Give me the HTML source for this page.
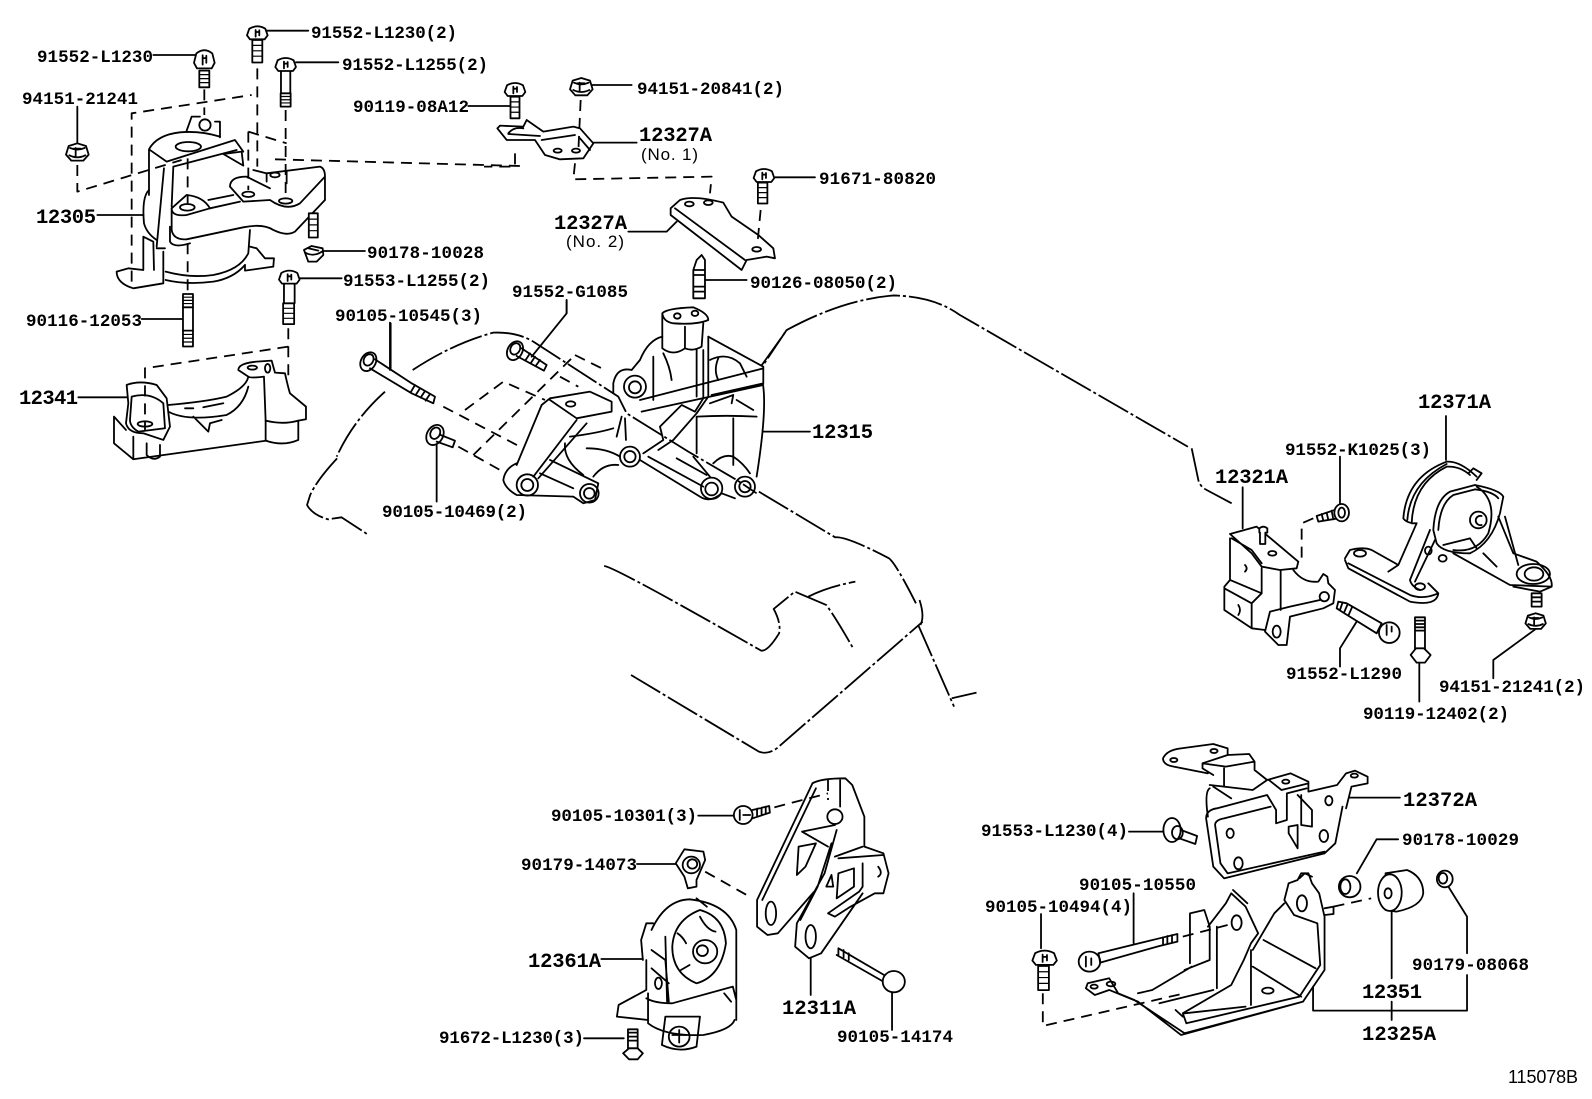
<!DOCTYPE html>
<html>
<head>
<meta charset="utf-8">
<style>
html,body{margin:0;padding:0;background:#fff}
svg{display:block}
path,ellipse,circle,rect,line{vector-effect:non-scaling-stroke}
.d{fill:none;stroke:#000;stroke-width:1.8;stroke-linejoin:round;stroke-linecap:round}
.w{fill:#fff}
.t{stroke-dasharray:11 7;stroke-linecap:butt}
.e{stroke-dasharray:34 3 3 3;stroke-linecap:butt}
.thin{stroke-width:1.2}
text{fill:#000;font-family:"Liberation Mono",monospace;font-weight:bold;font-size:17.5px}
text.b{font-size:20.5px;font-family:"Liberation Mono",monospace;font-weight:bold}
text.s{font-family:"Liberation Sans",sans-serif;font-weight:normal;font-size:17px}
text.n{font-family:"Liberation Sans",sans-serif;font-weight:normal;font-size:18px}
</style>
</head>
<body>
<svg width="1592" height="1099" viewBox="0 0 1592 1099" xmlns="http://www.w3.org/2000/svg">
<defs>
<g id="hd"><path class="w" d="M-31,6 L-24,-14 Q0,-28 24,-14 L31,6 L22,18 L-22,18 Z"/><path d="M-5,-10 V10 M6,-9 V6 M-5,-4 H6"/></g>
<g id="th"><path class="w" d="M-15,0 V50 H15 V0 Z"/><path class="thin" d="M-15,12 H15 M-15,24 H15 M-15,36 H15"/></g>
<g id="nut"><path class="w" d="M-34,6 L-26,-20 L0,-28 L26,-20 L34,6 L18,24 L-18,24 Z"/><path d="M-24,8 Q0,20 24,8 M-5,-14 V10 M-12,-12 H10 M-22,-14 Q0,-4 22,-14"/></g>
</defs>

<g class="d">
<!-- Engine outline -->
<g transform="scale(1.0153)">
<path class="e" d="M750,360 L775,325 Q830,295 880,291 Q920,292 945,310 L1170,440"/>
</g>
<g transform="translate(290,440) scale(0.4487,0.3333)">
<path class="e" d="M1045,155 L1215,292 Q1240,288 1335,355 Q1350,370 1395,490 M1403,480 Q1415,530 1405,555"/>
<path class="e" d="M1400,555 L1480,800 M1475,775 L1530,758"/>
<path class="e" d="M700,378 Q720,378 1050,632 Q1065,635 1090,580 Q1095,550 1078,507 L1125,455 L1195,495 Q1215,530 1255,625 M1155,470 Q1200,440 1260,425"/>
<path class="e" d="M760,705 L1045,935 Q1065,945 1085,925 L1410,545"/>
<path class="e" d="M105,55 Q60,120 45,165 L38,195 Q50,225 85,238 L115,232 L175,285"/>
</g>

<!-- Z1: upper-left group -->
<g transform="scale(0.3333)">
<path d="M800,92 H925 M460,165 H585 M888,187 H1015 M232,320 V430 M1405,318 H1535 M292,645 H430 M970,753 H1095 M900,835 H1025 M425,957 H548 M1170,968 V1110 M235,1192 H380"/>
<g class="t"><path d="M232,495 V575 L545,480 M395,845 V340 L755,285 M772,205 V500 M613,268 V345 M857,330 V590 M745,395 V570 M745,395 L860,430 M825,478 L1560,498 M563,475 V610 M563,730 V880 M865,985 V1130 M865,1040 L435,1105 V1290"/></g>
<!-- 12305 -->
<path d="M447,448 Q470,405 540,397 Q600,392 660,410 M447,448 V585 M447,448 L500,485 L705,420 L730,455 M670,462 L725,455 L730,497 Z"/>
<ellipse cx="565" cy="440" rx="38" ry="14"/>
<path d="M560,392 L575,350 L600,350 M645,365 L660,365 V412"/><circle cx="615" cy="375" r="17"/>
<path d="M520,500 L710,450 M520,500 L515,620 M760,510 L800,520 L960,500 Q975,505 975,530 V600 M975,530 L900,610 Q860,635 810,600 L730,605 L690,560 Q690,530 740,530 L810,565"/>
<path d="M515,625 Q515,650 560,645 L630,625 L720,605 M515,625 V690 Q520,720 560,718 L730,682 Q790,670 820,690 Q860,710 885,695 L975,600"/>
<ellipse cx="562" cy="622" rx="22" ry="10"/><ellipse cx="745" cy="583" rx="18" ry="8"/><ellipse cx="857" cy="603" rx="20" ry="8"/><ellipse cx="825" cy="525" rx="14" ry="7"/>
<path d="M515,625 L560,585 Q610,590 630,625 M492,505 L470,740 M447,570 Q425,590 432,670 Q440,700 470,720"/>
<path d="M510,680 V725 Q520,745 570,730 M750,690 L745,760 Q720,810 640,825 Q570,835 497,815 M497,840 Q560,855 640,845 Q700,835 735,795"/>
<path d="M750,740 L770,745 L795,775 L822,775 L820,800 L735,812 V795 M490,755 V850 L400,865 Q350,850 350,815 L385,805 L430,810 V710 L460,725 L462,810 M470,745 H495"/>
<path d="M800,520 V545 M860,515 V550 M625,600 L700,585"/>
<!-- bolts -->
<use href="#hd" transform="translate(772,100)"/><use href="#th" transform="translate(772,120) scale(1,1.35)"/>
<use href="#hd" transform="translate(613,180) scale(1,1.4)"/><use href="#th" transform="translate(613,212)"/>
<use href="#hd" transform="translate(857,195)"/><path d="M843,215 V280 M871,215 V280"/><use href="#th" transform="translate(857,280) scale(1,.8)"/>
<use href="#nut" transform="translate(232,458)"/>
<use href="#hd" transform="translate(868,833)"/><path d="M852,853 V910 M884,853 V910"/><use href="#th" transform="translate(866,910) scale(1.1,1.25)"/>
<use href="#th" transform="translate(564,882) scale(1,.8)"/><path d="M549,922 V992 M579,922 V992"/><use href="#th" transform="translate(564,992) scale(1,.95)"/>
<use href="#th" transform="translate(940,640) scale(.9,1.45)"/>
<path class="w" d="M912,750 L935,738 L968,745 L970,765 L950,785 L925,785 Z"/><path d="M916,758 Q940,772 966,755 M925,745 L955,752"/>
<!-- 12341 -->
<path d="M380,1155 Q420,1140 470,1155 L500,1195 L510,1280 L490,1320 L430,1300 Q385,1300 378,1270 L385,1210 Z"/>
<path d="M395,1190 Q450,1175 490,1210 L495,1285 L415,1295 Q390,1280 390,1260 Z"/><ellipse cx="435" cy="1272" rx="22" ry="8"/>
<path d="M342,1250 V1330 L400,1378 L800,1322 M342,1250 L378,1290 M400,1310 V1378 M440,1330 V1365 Q460,1385 480,1370 V1335"/>
<path d="M505,1215 Q620,1205 680,1190 Q740,1160 745,1130 L715,1110 Q715,1090 770,1085 L815,1082 L825,1118 L855,1120 Q865,1165 870,1180 L918,1220 V1258 L895,1262 V1320 Q850,1340 797,1322 V1262 L792,1130 Q750,1135 745,1130"/>
<path d="M505,1235 Q560,1265 680,1245 Q730,1220 745,1160 M580,1250 L625,1295 L630,1270 L665,1260 M797,1262 Q850,1275 895,1262 M555,1225 H580 M610,1222 L670,1210"/>
<ellipse cx="757" cy="1103" rx="14" ry="6"/><ellipse cx="803" cy="1105" rx="8" ry="13"/>
</g>

<!-- Z6: top centre -->
<g transform="translate(480,60) scale(0.3333)">
<path d="M335,75 H455 M340,248 H470 M885,352 H1005 M445,515 H560 L590,485 M675,660 H800 M260,720 V760"/>
<g class="t"><path d="M302,120 L295,275 M285,310 L280,358 L695,350 L690,400 M105,280 V320 H12 M842,450 L832,555"/></g>
<path d="M52,205 L80,240 H165 L195,285 L240,298 L310,295 L340,250 L300,205 L280,200 L190,215 L140,180 L130,200 L60,197 Z M85,220 Q100,200 130,205 M85,222 L180,228 M185,240 L285,225 M300,235 L330,270"/>
<ellipse cx="233" cy="272" rx="12" ry="6"/><ellipse cx="288" cy="272" rx="12" ry="6"/>
<use href="#hd" transform="translate(105,90)"/><use href="#th" transform="translate(105,110) scale(.9,1.3)"/>
<use href="#nut" transform="translate(304,82)"/>
<path d="M572,445 L600,420 Q640,405 730,428 L755,470 L835,525 L880,565 L885,595 L860,590 L800,600 L785,630 L572,465 Z M585,445 L795,600"/>
<ellipse cx="628" cy="432" rx="13" ry="7"/><ellipse cx="685" cy="428" rx="13" ry="7"/><ellipse cx="830" cy="568" rx="13" ry="7"/>
<use href="#hd" transform="translate(852,348)"/><use href="#th" transform="translate(848,368) scale(.95,1.25)"/>
<path d="M650,600 L665,585 L675,600 V715 H640 V630 Z M642,630 H675 M642,645 H675 M642,680 H675 M642,695 H675"/>
</g>

<!-- Z2: main bracket -->
<g transform="translate(320,280) scale(0.3333)">
<path d="M740,60 V100 L635,230 M212,130 V265 M350,495 V665 M1330,455 H1470"/>
<g class="t"><path d="M370,380 L600,500 M415,500 L540,570 M435,390 L550,305 L675,360 M460,525 L755,235 M765,225 L855,270 M720,290 L775,320"/></g>
<path class="e" d="M278,270 Q400,190 520,158 Q590,155 640,185 L895,350 L920,400 L1105,515 L1250,600 L1310,640"/>
<path class="e" d="M1400,150 L1330,255 M195,335 Q100,420 50,530"/>
<!-- bracket -->
<path d="M1027,100 Q1040,85 1120,82 Q1165,100 1165,120 Q1130,135 1060,130 Q1030,125 1027,100 Z M1027,100 V205 Q1060,230 1095,205 Q1120,215 1145,200 L1150,130 M1095,140 V205"/>
<ellipse cx="1072" cy="108" rx="10" ry="8"/><ellipse cx="1125" cy="100" rx="10" ry="8"/>
<path d="M1027,170 Q985,180 960,240 L935,270 Q890,260 880,310 V340 M1165,170 L1330,260 V310 L1175,345 M960,360 L1330,265 M965,395 L1330,315 M1330,320 Q1340,400 1310,590"/>
<circle cx="945" cy="320" r="33"/><circle cx="945" cy="322" r="18"/>
<path d="M1030,220 Q1050,260 1055,300 M1000,230 V360 M1130,210 V350 M1150,210 V355 L1125,395 L1085,375 L1020,440 L1030,480 L970,520 M1165,170 V350 L1130,400 L1060,480 L1015,510"/>
<path d="M1170,240 Q1220,215 1260,250 L1280,290 M1195,300 Q1180,270 1195,235 M1130,410 Q1220,405 1310,410 M1130,410 V520 M1240,415 V555 M1180,550 Q1210,520 1240,530 Q1270,550 1290,580 M1250,360 L1300,390 M1170,370 L1240,345 L1235,370"/>
<circle cx="1175" cy="625" r="32"/><circle cx="1175" cy="627" r="19"/>
<circle cx="1275" cy="620" r="30"/><circle cx="1275" cy="620" r="17"/>
<circle cx="930" cy="530" r="30"/><circle cx="930" cy="530" r="17"/>
<circle cx="622" cy="615" r="32"/><circle cx="622" cy="615" r="18"/>
<circle cx="808" cy="640" r="28"/><circle cx="808" cy="640" r="16"/>
<path d="M960,540 L1140,650 Q1170,670 1205,640 L1245,655 M985,530 L1150,620 M1070,535 L1160,585 M1120,530 L1170,590"/>
<path d="M590,555 L665,375 L690,355 L810,335 L875,365 V395 L770,415 L690,360 M550,600 Q555,565 590,550 M550,600 Q555,625 590,645 L760,650 L790,670 L825,660 L835,610 L690,540 M770,420 L640,590 M800,430 L655,595"/>
<path d="M735,490 Q730,540 790,585 M750,470 Q830,460 880,445 M800,505 Q860,505 900,530 M820,590 Q850,550 895,555 M890,470 L905,410 M915,415 L918,480 M660,580 L760,625"/>
<ellipse cx="752" cy="372" rx="14" ry="8"/>
<!-- bolts -->
<g transform="translate(145,245) rotate(-60)"><ellipse class="w" cx="0" cy="0" rx="30" ry="22"/><ellipse cx="5" cy="-2" rx="18" ry="14"/></g>
<path d="M165,238 L275,310 M150,265 L275,340 M275,310 L345,350 L340,370 L275,340 M285,315 L272,337 M300,325 L287,345 M315,333 L302,353 M330,342 L317,362"/>
<g transform="translate(585,212) rotate(-60)"><ellipse class="w" cx="0" cy="0" rx="30" ry="22"/><ellipse cx="5" cy="-2" rx="18" ry="14"/></g>
<path d="M605,205 L680,255 L672,272 L590,228 M630,220 L617,240 M645,230 L632,250 M660,240 L647,258"/>
<g transform="translate(345,465) rotate(-60)"><ellipse class="w" cx="0" cy="0" rx="32" ry="24"/><ellipse cx="5" cy="-2" rx="18" ry="14"/></g>
<path d="M362,465 L405,482 L398,502 L350,485"/>
</g>

<!-- Z3: right group -->
<g transform="translate(1190,390) scale(0.3333)">
<path d="M768,78 V210 M450,200 V345 M158,292 V415 M450,830 V775 L500,695 M910,865 V810 L1040,715 M688,815 V935"/>
<path class="e" d="M5,175 L25,270 Q30,290 50,300 L125,340"/>
<path class="t" d="M370,385 L335,400 V510"/>
<!-- 12321A -->
<path d="M120,432 L200,410 L325,515 L320,535 L270,540 L215,530 L185,490 L120,432 M120,445 V570 L103,590 V660 L185,715 L225,720 M120,570 L215,610 V535 M215,610 L185,640 V715 M103,595 L185,640 M272,540 V660 M125,445 L185,480 L215,520"/>
<path d="M310,540 Q340,580 385,575 L400,552 L412,560 L415,580 L435,600 L430,640 L400,655 L300,680 L290,765 L265,765 L225,725 L240,665 L300,650 L390,630"/>
<circle cx="403" cy="620" r="14"/><ellipse cx="260" cy="725" rx="12" ry="18"/><ellipse cx="247" cy="490" rx="12" ry="7"/><path d="M165,525 Q175,535 165,545 M145,645 Q155,660 145,675"/>
<path class="w" d="M208,415 Q220,405 232,415 V428 H226 V462 H210 V428 H208 Z"/>
<!-- bolts -->
<path d="M380,378 L440,358 L445,385 L385,395 Z M395,372 L400,392 M410,368 L415,390 M425,362 L430,388"/>
<ellipse class="w" cx="455" cy="368" rx="22" ry="26"/><ellipse cx="455" cy="368" rx="10" ry="15"/>
<path d="M445,635 L470,640 L575,700 L560,730 L460,668 L440,655 Z M458,637 L450,660 M472,645 L462,668 M486,652 L476,675"/>
<circle class="w" cx="598" cy="728" r="31"/><path d="M590,705 V735 M605,710 V725"/>
<path d="M675,682 H705 V780 H675 Z M675,692 H705 M675,702 H705 M675,712 H705 M675,722 H705"/>
<path class="w" d="M662,795 L678,775 H702 L722,795 L705,818 H680 Z"/>
<use href="#nut" transform="translate(1037,695) scale(.9)"/>
<path d="M1025,610 H1055 V650 H1025 Z M1025,622 H1055 M1025,635 H1055"/>
<!-- 12371A -->
<path d="M640,385 Q650,260 770,215 Q810,212 860,260 M665,400 Q670,280 770,230 Q810,228 840,255 M652,390 Q660,280 770,222 M640,385 Q650,400 680,400 M835,250 L850,235 L875,250 L860,270"/>
<path d="M730,420 Q735,330 780,305 L855,285 Q930,300 940,320 L930,370 Q905,460 840,490 Q760,490 740,460 Z M745,420 Q750,340 790,315 L855,298 Q910,305 925,325 M860,290 Q925,330 895,430 Q860,490 790,480"/>
<circle cx="865" cy="390" r="25"/><path d="M875,378 A14,14 0 1,0 875,405"/>
<path d="M680,400 L625,525 L595,545 M465,505 L480,480 Q520,470 545,480 L625,525 M465,510 L475,535 L660,635 Q740,650 745,610 L715,580 M475,520 L660,615 Q700,630 745,610 M660,570 L720,420 M675,575 L735,450 M660,570 Q665,590 690,600"/>
<path d="M790,490 L960,585 L1085,590 Q1090,560 1040,515 L970,490 L925,380 M945,380 L985,525 M1085,590 L1050,605 L970,590 M880,490 L920,530 M760,465 L840,445 L860,475"/>
<ellipse cx="1032" cy="552" rx="28" ry="20"/><ellipse cx="1030" cy="552" rx="50" ry="30"/>
<ellipse cx="510" cy="490" rx="18" ry="10"/><ellipse cx="690" cy="590" rx="15" ry="10"/><ellipse cx="758" cy="505" rx="12" ry="10"/><ellipse cx="715" cy="482" rx="10" ry="12"/>
</g>

<!-- Z4: lower right -->
<g transform="translate(980,730) scale(0.3589,0.3333)">
<path d="M1030,203 H1170 M415,305 H510 M1050,430 L1105,328 H1165 M428,490 V640 M170,552 V655 M1305,470 L1357,560 V670 M1357,735 V842 H928 V770 M1147,545 V745 M1147,815 V870"/>
<g class="t"><path d="M175,790 V888 L570,790 M565,620 L690,585 M985,530 L1090,505"/></g>
<!-- 12372A -->
<path d="M510,85 Q520,60 560,55 L650,42 L690,55 V75 L620,100 V115 L650,135 M510,85 Q510,105 540,110 L635,130 M620,100 L685,110 L765,95 L750,72 L690,75 M680,110 V170 L760,180 L800,150 M765,95 V120 L800,150 M800,150 L865,130 L915,155 V185 L995,165 L1020,130 L1045,122 L1080,140 V160 L1035,170 L1020,235"/>
<path d="M805,150 L840,180 L915,160 M630,265 Q630,240 660,235 L800,195 L825,240 V280 L855,270 V190 L910,175 M630,265 L650,410 L680,445 L960,370 L990,340 L1010,230 M655,285 Q655,270 680,265 L810,230 M655,285 L670,400 L690,430 L960,365 M640,175 Q625,185 635,260 M650,170 L700,205 M895,195 V285 L925,290 V240 L885,195 M860,290 L885,285 V355 L860,310 Z M640,165 L680,170"/>
<ellipse cx="697" cy="310" rx="10" ry="14"/><ellipse cx="720" cy="400" rx="12" ry="18"/><ellipse cx="958" cy="318" rx="12" ry="18"/><ellipse cx="972" cy="212" rx="10" ry="14"/>
<ellipse cx="540" cy="90" rx="10" ry="6"/><ellipse cx="652" cy="63" rx="10" ry="6"/><ellipse cx="852" cy="155" rx="10" ry="6"/><ellipse cx="1043" cy="137" rx="10" ry="6"/>
<!-- 12325A -->
<path d="M860,460 L885,450 L895,430 L915,430 L925,460 L945,490 L960,560 V720 L900,815 L570,910 L430,810 L385,790 L360,745 L300,760 L295,775 L320,795 L360,780 L440,815 L560,915 L900,815"/>
<path d="M860,460 L848,510 L875,555 L940,580 L948,705 L890,800 L575,880 L565,850 L700,765 L735,690 L755,640 L775,610 L740,530 L700,490 L685,520 L635,590 M760,660 L820,550 L848,520 M755,660 V825 M760,710 L895,800 M790,630 L935,715 M585,700 V550 L625,540 L640,590 V620 M660,590 V775 M590,710 L480,780 L440,790 M640,620 V690 L570,720 M500,820 L650,780 M570,850 L740,830 M545,840 L565,860"/>
<ellipse cx="897" cy="520" rx="14" ry="24"/><ellipse cx="715" cy="578" rx="14" ry="22"/><ellipse cx="802" cy="782" rx="16" ry="9"/><ellipse cx="365" cy="762" rx="12" ry="7"/><ellipse cx="318" cy="770" rx="10" ry="6"/>
<path d="M890,445 L905,430 L925,440 M705,480 L745,520 M960,535 L985,530 V552 L960,555"/>
<!-- round parts -->
<path class="w" d="M1130,430 L1190,420 Q1235,440 1235,490 Q1230,530 1160,545 L1130,540 Z"/>
<ellipse class="w" cx="1142" cy="488" rx="33" ry="55"/><ellipse cx="1137" cy="490" rx="10" ry="15"/>
<ellipse class="w" cx="1295" cy="447" rx="22" ry="25"/><ellipse cx="1290" cy="445" rx="12" ry="16"/>
<ellipse class="w" cx="1030" cy="470" rx="30" ry="32"/><ellipse cx="1018" cy="470" rx="14" ry="22"/>
<use href="#hd" transform="translate(180,685) scale(1.1)"/><use href="#th" transform="translate(177,708) scale(1,1.45)"/>
<circle class="w" cx="305" cy="695" r="30"/><path d="M295,680 V710 M310,685 V705"/>
<path d="M330,670 L500,625 L550,612 V635 L500,648 L335,698 Z M510,622 V645 M522,618 V642 M535,615 V638"/>
<ellipse class="w" cx="535" cy="300" rx="24" ry="36"/><ellipse cx="550" cy="308" rx="15" ry="20"/><path d="M560,300 L605,318 L600,342 L555,325"/>
</g>

<!-- Z5: lower centre -->
<g transform="translate(430,760) scale(0.3461,0.3333)">
<path d="M775,167 H880 M598,312 H710 M495,597 H615 M1100,595 V705 M1335,695 V810 M445,835 H560"/>
<g class="t"><path d="M995,142 L1150,100 M1150,60 V120 M795,335 L915,405"/></g>
<circle class="w" cx="905" cy="165" r="27"/><path d="M895,150 V180 M905,165 H925 M932,150 L980,138 L982,158 L932,175 M945,146 V170 M958,143 V165 M970,140 V160"/>
<path class="w" d="M710,310 L735,268 L790,275 L795,300 L770,360 V380 L745,385 L735,350 Z"/><circle cx="755" cy="315" r="25"/><circle cx="758" cy="312" r="14"/>
<!-- 12311A -->
<path d="M1105,70 Q1130,55 1200,55 L1220,75 L1255,170 V260 L1310,280 L1325,340 L1310,400 H1285 L1215,440 L1170,470 L1150,460 L1240,395 L1250,380 M1105,70 L945,420 V500 L975,525 L1005,520 L1110,395 M1115,85 L960,420 M1175,210 L1140,340 L1060,490 L1055,560 L1095,595 L1130,580 L1250,400 M1160,250 L1120,380 L1070,480"/>
<ellipse cx="985" cy="460" rx="15" ry="35"/><ellipse cx="1100" cy="530" rx="15" ry="35"/>
<path d="M1075,215 L1170,195 M1075,215 L1150,260 M1065,260 L1115,250 L1085,320 L1060,345 Z M1170,290 L1250,260 M1180,295 L1310,285 M1180,340 L1225,325 V380 L1175,415 Z M1250,310 V380 M1145,380 L1160,345 L1165,380 Z M1185,60 V140 M1295,320 Q1310,340 1295,350"/>
<circle cx="1170" cy="170" r="22"/>
<path d="M1180,565 L1320,650 M1175,585 L1310,665 M1180,565 V585 M1195,570 V592 M1210,580 V600"/>
<circle class="w" cx="1340" cy="665" r="32"/>
<!-- 12361A -->
<path d="M640,510 Q680,420 750,418 Q860,430 885,510 V780 M615,600 L610,540 L625,490 H645 M625,600 V690 L545,735 L540,770 L630,780 M630,700 V790 Q680,830 790,825 Q870,810 880,780 M625,715 Q650,730 700,730 L875,680 L885,720 M770,415 L800,440 M850,700 L870,725"/>
<path d="M700,560 Q705,480 780,450 Q850,470 855,550 Q840,650 770,670 Q700,640 700,560 Z M715,520 Q730,530 740,550 M780,470 Q800,510 825,515 M725,630 L750,615 M680,530 L685,725 M640,570 L680,600 L690,725 M640,625 L690,670"/>
<circle cx="795" cy="575" r="35"/><circle cx="787" cy="572" r="16"/><ellipse cx="660" cy="670" rx="10" ry="17"/>
<path d="M680,770 H780 L770,860 Q720,880 670,855 Z"/><circle cx="720" cy="830" r="30"/><path d="M700,825 H740 M720,810 V848"/>
<path d="M572,808 H600 V865 H572 Z M572,818 H600 M572,830 H600 M572,842 H600"/>
<path class="w" d="M558,880 L575,865 H600 L615,880 L600,898 H575 Z"/>
</g>
</g>

<!-- Labels -->
<text x="311" y="38" textLength="146">91552-L1230(2)</text>
<text x="37" y="62" textLength="116">91552-L1230</text>
<text x="342" y="70" textLength="146">91552-L1255(2)</text>
<text x="22" y="104" textLength="116">94151-21241</text>
<text x="353" y="112" textLength="116">90119-08A12</text>
<text class="b" x="36" y="223" textLength="60">12305</text>
<text x="367" y="258" textLength="117">90178-10028</text>
<text x="343" y="286" textLength="147">91553-L1255(2)</text>
<text x="26" y="326" textLength="116">90116-12053</text>
<text x="335" y="321" textLength="147">90105-10545(3)</text>
<text class="b" x="19" y="404" textLength="59">12341</text>
<text x="512" y="297" textLength="116">91552-G1085</text>
<text x="382" y="517" textLength="145">90105-10469(2)</text>
<text class="b" x="812" y="438" textLength="61">12315</text>
<text x="637" y="94" textLength="147">94151-20841(2)</text>
<text class="b" x="639" y="141" textLength="73">12327A</text>
<text class="s" x="641" y="160" textLength="57">(No. 1)</text>
<text x="819" y="184" textLength="117">91671-80820</text>
<text class="b" x="554" y="229" textLength="73">12327A</text>
<text class="s" x="566" y="247" textLength="58">(No. 2)</text>
<text x="750" y="288" textLength="147">90126-08050(2)</text>
<text class="b" x="1418" y="408" textLength="73">12371A</text>
<text x="1285" y="455" textLength="146">91552-K1025(3)</text>
<text class="b" x="1215" y="483" textLength="73">12321A</text>
<text x="1286" y="679" textLength="116">91552-L1290</text>
<text x="1439" y="692" textLength="146">94151-21241(2)</text>
<text x="1363" y="719" textLength="146">90119-12402(2)</text>
<text class="b" x="1403" y="806" textLength="74">12372A</text>
<text x="981" y="836" textLength="147">91553-L1230(4)</text>
<text x="1402" y="845" textLength="117">90178-10029</text>
<text x="1079" y="890" textLength="117">90105-10550</text>
<text x="985" y="912" textLength="147">90105-10494(4)</text>
<text x="1412" y="970" textLength="117">90179-08068</text>
<text class="b" x="1362" y="998" textLength="60">12351</text>
<text class="b" x="1362" y="1040" textLength="74">12325A</text>
<text x="551" y="821" textLength="146">90105-10301(3)</text>
<text x="521" y="870" textLength="116">90179-14073</text>
<text class="b" x="528" y="967" textLength="73">12361A</text>
<text class="b" x="782" y="1014" textLength="74">12311A</text>
<text x="837" y="1042" textLength="116">90105-14174</text>
<text x="439" y="1043" textLength="145">91672-L1230(3)</text>
<text class="n" x="1508" y="1083" textLength="70">115078B</text>
</svg>
</body>
</html>
